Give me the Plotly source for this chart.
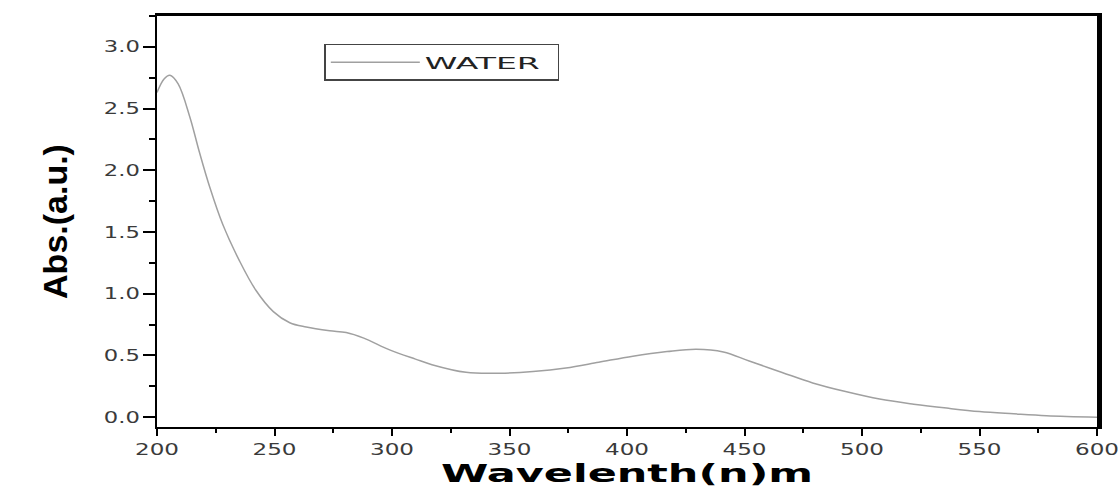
import plotly.graph_objects as go

# Wavelength (nm) and absorbance
wavelength = [200, 203, 205.5, 209, 214, 218, 222.5, 228, 235, 242, 249.5, 256.5,
              263.5, 273.5, 280.5, 288, 299, 310, 317, 331.5, 346, 360, 374, 388,
              402.5, 417, 429.5, 441, 452, 466, 479, 493, 507.5, 522, 536, 550,
              564.5, 578.5, 600]
absorbance = [2.63, 2.74, 2.77, 2.70, 2.43, 2.15, 1.86, 1.56, 1.27, 1.03, 0.855, 0.765,
              0.73, 0.70, 0.685, 0.64, 0.545, 0.47, 0.425, 0.363, 0.356, 0.369, 0.398, 0.445,
              0.494, 0.531, 0.55, 0.528, 0.455, 0.362, 0.277, 0.207, 0.146, 0.105, 0.073, 0.045,
              0.027, 0.012, 0.0]
series_name = "WATER"
x_ticks = [200, 250, 300, 350, 400, 450, 500, 550, 600]
y_ticks = [0.0, 0.5, 1.0, 1.5, 2.0, 2.5, 3.0]
x_title = "Wavelenth(n)m"
y_title = "Abs.(a.u.)"

x_range = [200, 600]
y_range = [-0.08, 3.25]

fig = go.Figure()
fig.add_trace(go.Scatter(
    x=wavelength, y=absorbance, mode="lines", name=series_name,
    line=dict(color="#a0a0a0", width=1.5, shape="spline", smoothing=1.0),
    showlegend=True,
))
# invisible trace to activate top/right frame axes
fig.add_trace(go.Scatter(x=[x_range[0]], y=[y_range[0]], xaxis="x2", yaxis="y2",
                         mode="markers", marker=dict(opacity=0), showlegend=False,
                         hoverinfo="skip"))

tick_font = dict(family="DejaVu Sans", size=16, color="#3a3a3a")

fig.update_layout(
    width=1120, height=489,
    margin=dict(l=157, r=23, t=16, b=62),
    paper_bgcolor="white", plot_bgcolor="white",
    showlegend=True,
    legend=dict(
        orientation="h",
        x=0.178, y=0.932, xanchor="left", yanchor="top",
        bordercolor="#444444", borderwidth=1.5, bgcolor="white",
        font=dict(family="DejaVu Sans", size=16, color="#222222"),
        itemwidth=89, entrywidth=128, entrywidthmode="pixels",
    ),
    xaxis=dict(
        range=x_range, tickvals=x_ticks, ticktext=[str(v) for v in x_ticks],
        showline=True, linecolor="black", linewidth=2, automargin=False,
        ticks="outside", ticklen=7, tickwidth=2, tickcolor="black",
        minor=dict(dtick=25, ticks="outside", ticklen=4, tickwidth=2, tickcolor="black"),
        showgrid=False, zeroline=False, tickfont=tick_font,
        title=dict(text=x_title, standoff=3,
                   font=dict(family="DejaVu Sans", size=25, color="black", weight="bold")),
    ),
    yaxis=dict(
        range=y_range, tickvals=y_ticks, ticktext=[f"{v:.1f}" for v in y_ticks],
        showline=True, linecolor="black", linewidth=2, automargin=False,
        ticks="outside", ticklen=12, tickwidth=2, tickcolor="black",
        minor=dict(dtick=0.25, tick0=0, ticks="outside", ticklen=6, tickwidth=2, tickcolor="black"),
        showgrid=False, zeroline=False, tickfont=tick_font,
        title=dict(text=y_title, standoff=36,
                   font=dict(family="Liberation Sans", size=34,
                             color="black", weight="bold")),
    ),
    xaxis2=dict(overlaying="x", side="top", range=x_range, showline=True, automargin=False,
                linecolor="black", linewidth=3, showticklabels=False, ticks="",
                showgrid=False, zeroline=False),
    yaxis2=dict(overlaying="y", side="right", range=y_range, showline=True, automargin=False,
                linecolor="black", linewidth=5, showticklabels=False, ticks="",
                showgrid=False, zeroline=False),
)

post_js = """
document.body.style.margin = '0px';
var gd = document.getElementById('{plot_id}');
function fitText(sel, len) {
  gd.querySelectorAll(sel).forEach(function (t) {
    t.setAttribute('textLength', len);
    t.setAttribute('lengthAdjust', 'spacingAndGlyphs');
  });
}
function stretchTexts() {
  fitText('.xtick text', 44);
  fitText('.ytick text', 36);
  fitText('.g-xtitle text', 372);
  fitText('.legendtext', 115);
}
stretchTexts();
if (gd.on) { gd.on('plotly_afterplot', stretchTexts); }
"""

fig.write_html("out.html", post_script=post_js, config={"displayModeBar": False})
